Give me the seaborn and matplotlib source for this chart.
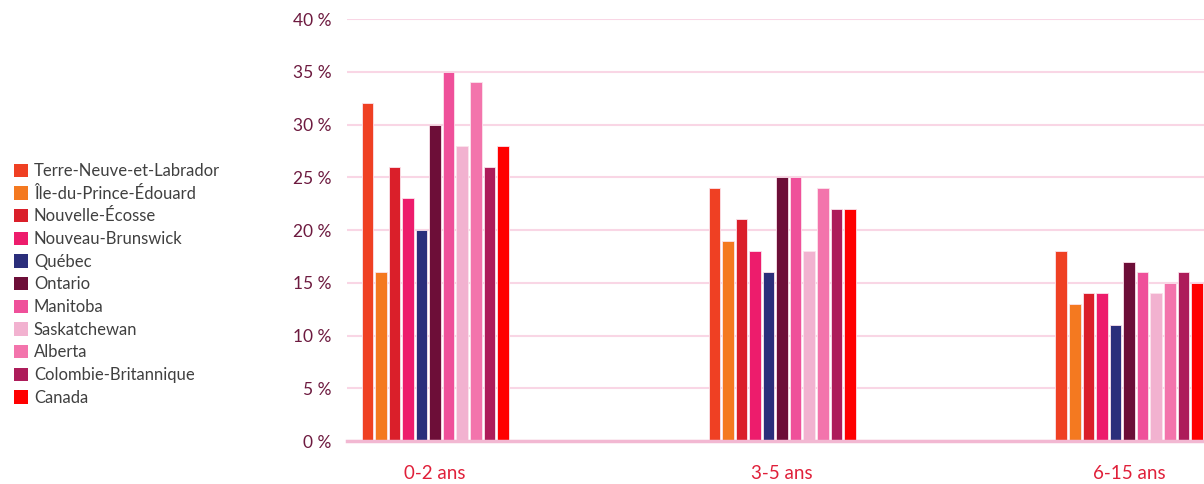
import matplotlib
matplotlib.use("Agg")
import matplotlib.pyplot as plt
from matplotlib.ticker import FuncFormatter
import seaborn as sns
import pandas as pd

age_groups = ["0-2 ans", "3-5 ans", "6-15 ans"]
regions = [
    "Terre-Neuve-et-Labrador", "Île-du-Prince-Édouard", "Nouvelle-Écosse",
    "Nouveau-Brunswick", "Québec", "Ontario", "Manitoba", "Saskatchewan",
    "Alberta", "Colombie-Britannique", "Canada",
]
values_0_2 = [32, 16, 26, 23, 20, 30, 35, 28, 34, 26, 28]
values_3_5 = [24, 19, 21, 18, 16, 25, 25, 18, 24, 22, 22]
values_6_15 = [18, 13, 14, 14, 11, 17, 16, 14, 15, 16, 15]
region_colors = [
    "#EF4023", "#F47920", "#DA1F2A", "#ED1C6C", "#2B2E7B", "#6D0E38",
    "#EF509A", "#F2B2D0", "#F374AC", "#AD1C5A", "#FF0000",
]
y_ticks = [0, 5, 10, 15, 20, 25, 30, 35, 40]

rows = []
for age, vals in zip(age_groups, [values_0_2, values_3_5, values_6_15]):
    for reg, v in zip(regions, vals):
        rows.append({"age": age, "region": reg, "value": v})
df = pd.DataFrame(rows)

sns.set_style("white")
plt.rcParams["font.family"] = ["Lato", "DejaVu Sans"]

fig = plt.figure(figsize=(12.04, 4.84), dpi=100)
ax = fig.add_axes([0.2882, 0.0888, 0.7118, 0.8719])

sns.barplot(
    data=df, x="age", y="value", hue="region", order=age_groups,
    hue_order=regions, palette=region_colors, saturation=1, width=0.43,
    gap=0.15, edgecolor="#FBE3EC", linewidth=0.6, errorbar=None, ax=ax,
)

ax.set_xlim(-0.254, 2.216)
ax.set_ylim(0, 40)
ax.set_yticks(y_ticks)
ax.yaxis.set_major_formatter(FuncFormatter(lambda v, _: f"{int(v)} %"))
ax.grid(axis="y", color="#F9D6E5", linewidth=1.5)
ax.set_axisbelow(True)
for side in ["top", "right", "left"]:
    ax.spines[side].set_visible(False)
ax.spines["bottom"].set_color("#F2B8D2")
ax.spines["bottom"].set_linewidth(2.5)
ax.tick_params(axis="y", length=0, pad=11, labelsize=12.5, labelcolor="#6D1A3F")
ax.tick_params(axis="x", length=0, pad=17, labelsize=13.5, labelcolor="#E0203A")
ax.set_xlabel("")
ax.set_ylabel("")

handles, labels = ax.get_legend_handles_labels()
ax.get_legend().remove()
leg = fig.legend(
    handles, labels, loc="upper left", bbox_to_anchor=(0.006, 0.677),
    frameon=False, fontsize=12, labelcolor="#404040", handlelength=0.85,
    handleheight=0.85, handletextpad=0.35, labelspacing=0.4, borderaxespad=0,
)
for h in leg.legend_handles:
    h.set_edgecolor("none")

fig.savefig("out.png", dpi=100)
